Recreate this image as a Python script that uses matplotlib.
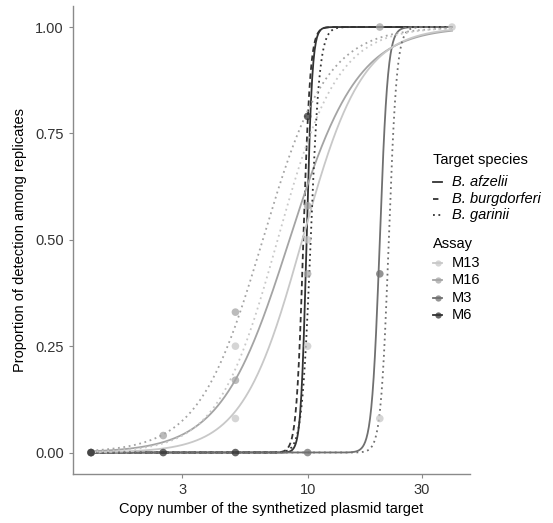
import numpy as np
import matplotlib.pyplot as plt
from matplotlib.lines import Line2D

plt.rcParams['font.family'] = ['Liberation Sans', 'DejaVu Sans']

# assay colours (grey scale, light -> dark)
assays = ['M13', 'M16', 'M3', 'M6']
assay_colors = {'M13': '#c8c8c8', 'M16': '#a4a4a4', 'M3': '#707070', 'M6': '#333333'}

species = ['B. afzelii', 'B. burgdorferi', 'B. garinii']
species_styles = {'B. afzelii': '-', 'B. burgdorferi': (0, (3, 2)), 'B. garinii': (0, (1, 2))}

# fitted curves: assay, species, copies at 50 %, slope (logit per log10 copy)
curve_assay = ['M6', 'M6', 'M3', 'M16', 'M13', 'M6', 'M3', 'M16', 'M13']
curve_species = ['B. afzelii', 'B. burgdorferi', 'B. afzelii', 'B. afzelii', 'B. afzelii',
                 'B. garinii', 'B. garinii', 'B. garinii', 'B. garinii']
curve_x50 = [9.9, 9.6, 20.0, 8.4, 9.5, 10.3, 21.8, 6.5, 7.5]
curve_slope = [85, 70, 60, 7.0, 8.0, 55, 60, 7.5, 8.0]
x_min, x_max = 1.25, 40

# observed proportions
pt_copies = [1.25, 1.25, 1.25, 1.25, 2.5, 2.5, 5, 5, 5, 5, 5,
             10, 10, 10, 10, 10, 10, 20, 20, 20, 40]
pt_prop = [0, 0, 0, 0, 0.04, 0, 0.33, 0.25, 0.17, 0.08, 0,
           0.79, 0.58, 0.5, 0.42, 0.25, 0, 1.0, 0.42, 0.08, 1.0]
pt_assay = ['M13', 'M16', 'M3', 'M6', 'M16', 'M6', 'M16', 'M13', 'M16', 'M13', 'M6',
            'M6', 'M16', 'M13', 'M16', 'M13', 'M3', 'M16', 'M3', 'M13', 'M13']

fig = plt.figure(figsize=(5.53, 5.23), dpi=100)
ax = fig.add_axes([0.132, 0.094, 0.718, 0.895])

xs = np.logspace(np.log10(x_min), np.log10(x_max), 600)
for a, s, x50, k in zip(curve_assay, curve_species, curve_x50, curve_slope):
    p = 1 / (1 + np.exp(-k * (np.log10(xs) - np.log10(x50))))
    ax.plot(xs, p, color=assay_colors[a], linestyle=species_styles[s], lw=1.3)

ax.scatter(pt_copies, pt_prop, c=[assay_colors[a] for a in pt_assay], s=30, alpha=0.75,
           edgecolors='none', zorder=3)

ax.set_xscale('log')
lo, hi = np.log10(x_min), np.log10(x_max)
pad = (hi - lo) * 0.05
ax.set_xlim(10 ** (lo - pad), 10 ** (hi + pad))
ax.set_ylim(-0.05, 1.05)
ax.set_xticks([3, 10, 30])
ax.set_xticklabels(['3', '10', '30'])
ax.minorticks_off()
ax.set_yticks([0, 0.25, 0.5, 0.75, 1.0])
ax.set_yticklabels(['0.00', '0.25', '0.50', '0.75', '1.00'])
for sp in ['top', 'right']:
    ax.spines[sp].set_visible(False)
for sp in ['left', 'bottom']:
    ax.spines[sp].set_color('#8a8a8a')
    ax.spines[sp].set_linewidth(1.0)
ax.tick_params(colors='#8a8a8a', length=3, width=0.8, labelsize=10.5, labelcolor='#333333')
ax.set_xlabel('Copy number of the synthetized plasmid target', fontsize=10.5, labelpad=4)
ax.set_ylabel('Proportion of detection among replicates', fontsize=10.5, labelpad=6)

# legends
W, H = 553, 523
def fx(px):
    return px / W
def fy(py):
    return 1 - py / H

fig.text(fx(433), fy(160), 'Target species', fontsize=10.5, va='center')
for i, s in enumerate(species):
    y = 182 + i * 16.5
    fig.add_artist(Line2D([fx(433), fx(442)], [fy(y), fy(y)], color='#333333',
                          linestyle=species_styles[s], lw=1.3))
    fig.text(fx(452), fy(y), s, fontsize=10.5, style='italic', va='center')

fig.text(fx(433), fy(244), 'Assay', fontsize=10.5, va='center')
for i, a in enumerate(assays):
    y = 263 + i * 17.3
    fig.add_artist(Line2D([fx(433), fx(442)], [fy(y), fy(y)], color=assay_colors[a], lw=1.3))
    fig.add_artist(Line2D([fx(437.5)], [fy(y)], color=assay_colors[a], marker='o',
                          markersize=4.5, alpha=0.75, markeredgewidth=0))
    fig.text(fx(452), fy(y), a, fontsize=10.5, va='center')

fig.savefig('out.png', dpi=100)
